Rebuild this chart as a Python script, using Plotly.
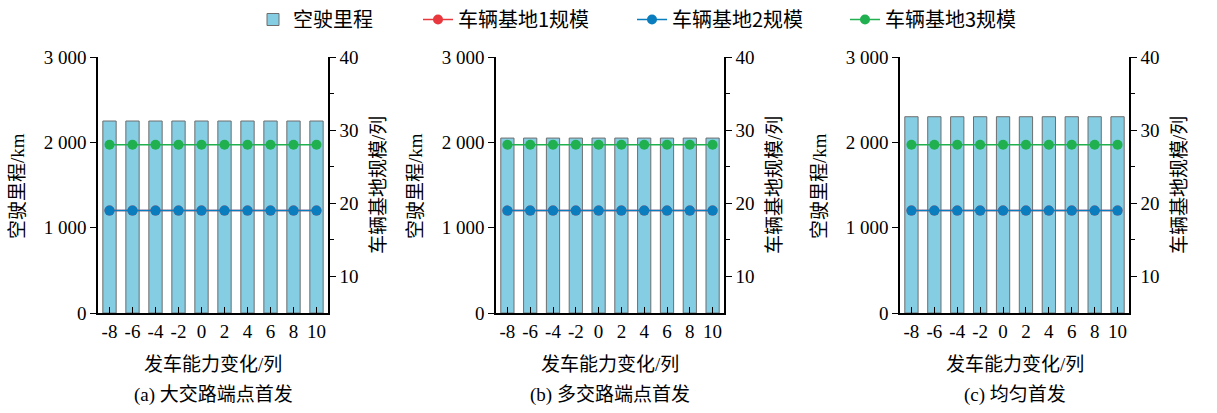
import plotly.graph_objects as go

# Change in train dispatch capacity (trains)
capacity_change = [-8, -6, -4, -2, 0, 2, 4, 6, 8, 10]

# Empty-running mileage (km) for each dispatch scheme
mileage_a = [2250, 2250, 2250, 2250, 2250, 2250, 2250, 2250, 2250, 2250]
mileage_b = [2050, 2050, 2050, 2050, 2050, 2050, 2050, 2050, 2050, 2050]
mileage_c = [2300, 2300, 2300, 2300, 2300, 2300, 2300, 2300, 2300, 2300]

# Depot sizes (trains)
depot1 = [19, 19, 19, 19, 19, 19, 19, 19, 19, 19]
depot2 = [19, 19, 19, 19, 19, 19, 19, 19, 19, 19]
depot3 = [28, 28, 28, 28, 28, 28, 28, 28, 28, 28]

captions = ["(a) 大交路端点首发", "(b) 多交路端点首发", "(c) 均匀首发"]
left_ticks = [0, 1000, 2000, 3000]
left_ticktext = ["0", "1 000", "2 000", "3 000"]
right_ticks = [10, 20, 30, 40]

W, H = 1217, 413
BAR_FILL = "#85CDE3"
BAR_LINE = "#6E6E6E"
RED, BLUE, GREEN = "#E8383D", "#0A7DBF", "#21B04F"
NUM_FONT = "Liberation Serif, Times New Roman, Noto Sans CJK SC"
CJK_FONT = "Liberation Serif, Noto Sans CJK SC"
LEGEND_FONT = dict(family="Noto Sans CJK SC", size=20, color="black")

# Pixel extents of each panel's plotting area
panels_px = [(98, 328), (496, 724), (900, 1129)]
top_px, bottom_px = 57, 313
# Left edge (px) of each legend entry
legend_left_px = [253, 418, 632, 845]


def px_x(v):
    return v / W


def px_y(v):
    return 1 - v / H


fig = go.Figure()
layout = {}
annotations = []

for i, (mileage, (x0, x1)) in enumerate(zip([mileage_a, mileage_b, mileage_c], panels_px)):
    n = i + 1
    xa = "x" if n == 1 else f"x{n}"
    yl = f"y{2 * n - 1}" if n > 1 else "y"
    yr = f"y{2 * n}"
    show = n == 1

    fig.add_trace(go.Bar(
        x=capacity_change, y=mileage, width=1.16,
        marker=dict(color=BAR_FILL, line=dict(color=BAR_LINE, width=1)),
        name="空驶里程", showlegend=show, legendgroup="bar", legend="legend",
        xaxis=xa, yaxis=yl,
    ))
    for k, (vals, color, name) in enumerate([(depot1, RED, "车辆基地1规模"),
                                             (depot2, BLUE, "车辆基地2规模"),
                                             (depot3, GREEN, "车辆基地3规模")]):
        fig.add_trace(go.Scatter(
            x=capacity_change, y=vals, mode="lines+markers",
            line=dict(color=color, width=1.5),
            marker=dict(color=color, size=10),
            name=name, showlegend=show, legendgroup=name, legend=f"legend{k + 2}",
            xaxis=xa, yaxis=yr,
        ))

    dom_x = [px_x(x0), px_x(x1)]
    dom_y = [px_y(bottom_px), px_y(top_px)]
    xkey = "xaxis" if n == 1 else f"xaxis{n}"
    ylkey = "yaxis" if n == 1 else f"yaxis{2 * n - 1}"
    yrkey = f"yaxis{2 * n}"

    layout[xkey] = dict(
        domain=dom_x, anchor=yl, range=[-9, 11], automargin=False,
        tickmode="array", tickvals=capacity_change,
        ticktext=[str(v) for v in capacity_change],
        ticks="inside", ticklen=6, tickwidth=1.2, tickcolor="black",
        showline=True, linecolor="black", linewidth=1.5,
        showgrid=False, zeroline=False, fixedrange=True,
        tickfont=dict(family=NUM_FONT, size=19, color="black"),
    )
    layout[ylkey] = dict(
        domain=dom_y, anchor=xa, range=[0, 3000], automargin=False,
        tickmode="array", tickvals=left_ticks, ticktext=left_ticktext,
        ticks="outside", ticklen=6, tickwidth=1.2, tickcolor="black",
        showline=True, linecolor="black", linewidth=1.5,
        showgrid=False, zeroline=False,
        tickfont=dict(family=NUM_FONT, size=19, color="black"),
    )
    layout[yrkey] = dict(
        domain=dom_y, anchor=xa, overlaying=yl, side="right", range=[5, 40],
        automargin=False,
        tickmode="array", tickvals=right_ticks,
        ticks="outside", ticklen=6, tickwidth=1.2, tickcolor="black",
        minor=dict(tickvals=[15, 25, 35], ticks="outside", ticklen=4,
                   tickwidth=1.2, tickcolor="black"),
        showline=True, linecolor="black", linewidth=1.5,
        showgrid=False, zeroline=False,
        tickfont=dict(family=NUM_FONT, size=19, color="black"),
    )

    cx = (x0 + x1) / 2
    annotations += [
        dict(text="空驶里程/km", x=px_x(x0 - 81), y=px_y(186), textangle=-90,
             font=dict(family=CJK_FONT, size=19, color="black")),
        dict(text="车辆基地规模/列", x=px_x(x1 + 50), y=px_y(185), textangle=-90,
             font=dict(family=CJK_FONT, size=19, color="black")),
        dict(text="发车能力变化/列", x=px_x(cx), y=px_y(364),
             font=dict(family=CJK_FONT, size=19, color="black")),
        dict(text=captions[i], x=px_x(cx), y=px_y(395),
             font=dict(family=CJK_FONT, size=19, color="black")),
    ]

for a in annotations:
    a.update(xref="paper", yref="paper", showarrow=False,
             xanchor="center", yanchor="middle")

for j, lx in enumerate(legend_left_px):
    key = "legend" if j == 0 else f"legend{j + 1}"
    layout[key] = dict(
        orientation="h", x=px_x(lx), xanchor="left", y=1.0, yanchor="top",
        font=LEGEND_FONT, itemwidth=30, bgcolor="rgba(0,0,0,0)",
    )

fig.update_layout(
    width=W, height=H,
    margin=dict(l=0, r=0, t=0, b=0, autoexpand=False),
    paper_bgcolor="white", plot_bgcolor="white",
    barmode="overlay",
    showlegend=True,
    annotations=annotations,
    **layout,
)

fig.write_html("out.html")
